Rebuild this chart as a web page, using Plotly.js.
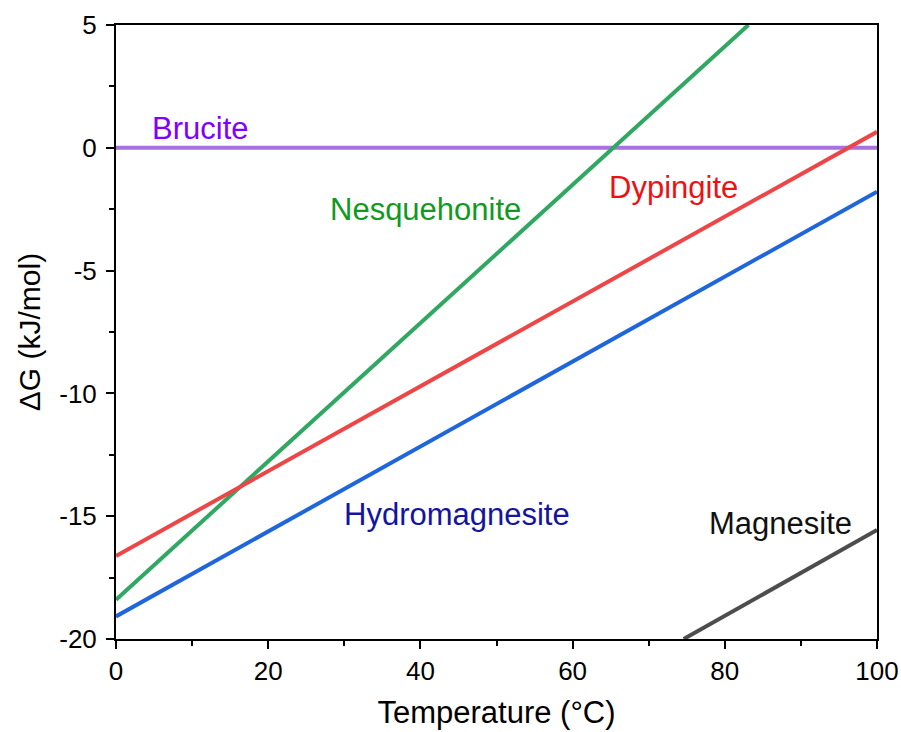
<!DOCTYPE html>
<html>
<head>
<meta charset="utf-8">
<script src="https://cdn.plot.ly/plotly-3.0.1.min.js"></script>
<style>html,body{margin:0;padding:0;background:#fff;}#chart{width:901px;height:732px;}</style>
</head>
<body>
<div id="chart"></div>
<script>
// Temperature (°C) endpoints and ΔG (kJ/mol) values
const seriesNames = ['Brucite', 'Nesquehonite', 'Dypingite', 'Hydromagnesite', 'Magnesite'];
const bruciteT = [0, 100];
const bruciteG = [0, 0];
const nesquehoniteT = [0, 83.1];
const nesquehoniteG = [-18.4, 5];
const dypingiteT = [0, 100];
const dypingiteG = [-16.62, 0.65];
const hydromagnesiteT = [0, 100];
const hydromagnesiteG = [-19.08, -1.79];
const magnesiteT = [74.6, 100];
const magnesiteG = [-20, -15.56];

// label anchor positions (data units)
const labelT = [11.0, 40.7, 73.2, 44.8, 87.3];
const labelG = [0.8, -2.5, -1.6, -14.95, -15.3];

const xTickVals = [0, 20, 40, 60, 80, 100];
const xTickText = ['0', '20', '40', '60', '80', '100'];
const yTickVals = [-20, -15, -10, -5, 0, 5];
const yTickText = ['-20', '-15', '-10', '-5', '0', '5'];

const lineColors = ['#a970e0', '#30a862', '#ee4646', '#1f66dd', '#4d4d4d'];
const textColors = ['#8000ff', '#119922', '#ee1111', '#1414a0', '#111111'];

const xs = [bruciteT, nesquehoniteT, dypingiteT, hydromagnesiteT, magnesiteT];
const ys = [bruciteG, nesquehoniteG, dypingiteG, hydromagnesiteG, magnesiteG];

const traces = seriesNames.map((n, i) => ({
  x: xs[i], y: ys[i], name: n, type: 'scatter', mode: 'lines',
  line: {color: lineColors[i], width: 4}, hoverinfo: 'skip'
}));

const FONT = 'Liberation Sans, Arial, sans-serif';

const annotations = seriesNames.map((n, i) => ({
  x: labelT[i], y: labelG[i], xref: 'x', yref: 'y', text: n, showarrow: false,
  font: {family: FONT, size: 31, color: textColors[i]}, xanchor: 'center', yanchor: 'middle'
}));

const layout = {
  width: 901, height: 732,
  margin: {l: 116, r: 24, t: 25, b: 93},
  paper_bgcolor: '#ffffff', plot_bgcolor: '#ffffff',
  showlegend: false,
  font: {family: FONT, size: 26, color: '#000'},
  xaxis: {
    range: [0, 100], tickvals: xTickVals, ticktext: xTickText,
    showgrid: false, zeroline: false,
    showline: true, linecolor: '#000', linewidth: 2, mirror: true,
    ticks: 'outside', ticklen: 8, tickwidth: 2, tickcolor: '#000',
    minor: {dtick: 10, tick0: 0, ticks: 'outside', ticklen: 5, tickwidth: 2, tickcolor: '#000', showgrid: false},
    tickfont: {family: FONT, size: 26, color: '#000'},
    title: {text: 'Temperature (°C)', font: {family: FONT, size: 31, color: '#000'}, standoff: 16}
  },
  yaxis: {
    range: [-20, 5], tickvals: yTickVals, ticktext: yTickText,
    showgrid: false, zeroline: false,
    showline: true, linecolor: '#000', linewidth: 2, mirror: true,
    ticks: 'outside', ticklen: 8, tickwidth: 2, tickcolor: '#000',
    ticklabelstandoff: 4,
    minor: {dtick: 2.5, tick0: 0, ticks: 'outside', ticklen: 5, tickwidth: 2, tickcolor: '#000', showgrid: false},
    tickfont: {family: FONT, size: 26, color: '#000'},
    title: {text: 'ΔG (kJ/mol)', font: {family: FONT, size: 30, color: '#000'}, standoff: 10}
  },
  annotations: annotations
};

Plotly.newPlot('chart', traces, layout, {displayModeBar: false, staticPlot: true});
</script>
</body>
</html>
